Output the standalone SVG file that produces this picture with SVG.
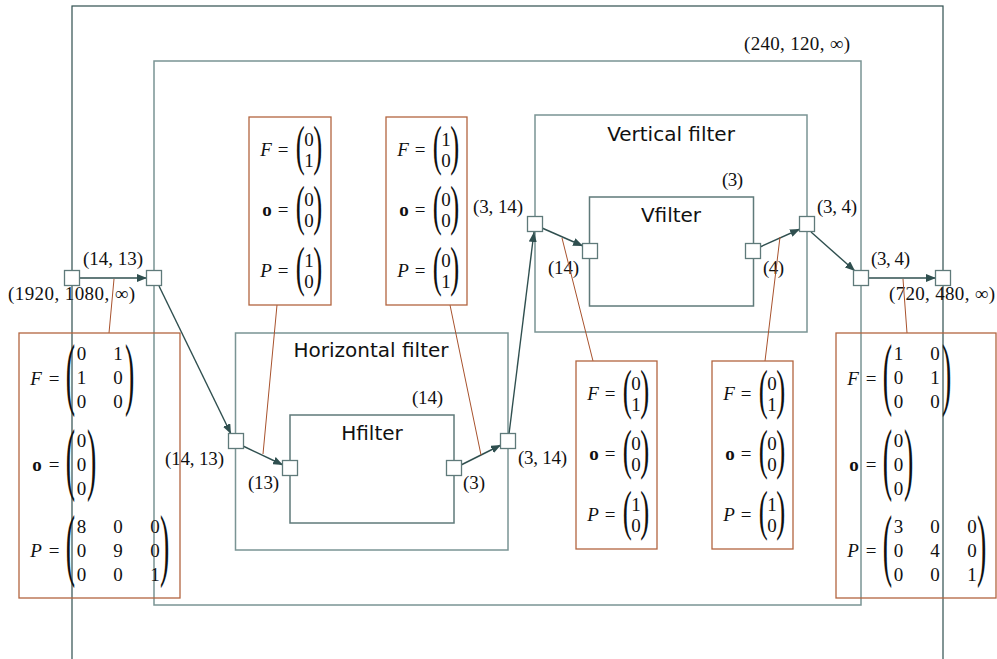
<svg xmlns="http://www.w3.org/2000/svg" width="997" height="659" viewBox="0 0 997 659">
<defs>
<style>
.outer{fill:none;stroke:#2f4f4f;stroke-width:1.2}
.box{fill:none;stroke:#7a9494;stroke-width:1.5}
.fbox{fill:none;stroke:#5f7a7a;stroke-width:1.5}
.port{fill:#fff;stroke:#5f7a7a;stroke-width:1.3}
.mbox{fill:none;stroke:#b3653f;stroke-width:1.3}
.note{stroke:#a8522d;stroke-width:1;fill:none}
.edge{stroke:#2f4f4f;stroke-width:1.4;fill:none;marker-end:url(#ah)}
.m{font-family:"Liberation Serif","DejaVu Serif",serif;font-size:19px;fill:#111;text-anchor:middle}
.mi{font-style:italic}
.mb{font-weight:bold}
.p3{font-family:"Liberation Serif","DejaVu Serif",serif;font-size:80px;fill:#111}
.p2{font-family:"Liberation Serif","DejaVu Serif",serif;font-size:54px;fill:#111}
.lb{font-family:"Liberation Serif","DejaVu Serif",serif;font-size:19px;fill:#111}
.t{font-family:"DejaVu Sans","Liberation Sans",sans-serif;font-size:20px;fill:#111;text-anchor:middle}
</style>
<marker id="ah" viewBox="0 0 10 8" refX="10" refY="4" markerWidth="10" markerHeight="8" markerUnits="userSpaceOnUse" orient="auto">
<path d="M0,0 L10,4 L0,8 z" fill="#2f4f4f"/>
</marker>
</defs>
<rect width="997" height="659" fill="#fff"/>

<g id="pipeline">
<rect class="outer" x="72" y="6" width="871" height="700"/>
<text class="lb" x="8" y="300" textLength="127">(1920, 1080, ∞)</text>
<text class="lb" x="889" y="300" textLength="106">(720, 480, ∞)</text>
</g>

<g id="scaler">
<rect class="box" x="154" y="61" width="707" height="544"/>
<text class="lb" x="744" y="50" textLength="106">(240, 120, ∞)</text>
<text class="lb" x="83" y="265" textLength="60">(14, 13)</text>
<text class="lb" x="871" y="265" textLength="39">(3, 4)</text>
</g>

<g id="horizontal-filter">
<rect class="box" x="235.5" y="333" width="272.5" height="217"/>
<text class="t" x="371" y="357">Horizontal filter</text>
<text class="lb" x="165" y="465" textLength="59">(14, 13)</text>
<text class="lb" x="518" y="464" textLength="49">(3, 14)</text>
</g>

<g id="hfilter">
<rect class="fbox" x="290" y="415" width="164" height="108"/>
<text class="t" x="372" y="440">Hfilter</text>
<text class="lb" x="412" y="404" textLength="31">(14)</text>
<text class="lb" x="248" y="489" textLength="31">(13)</text>
<text class="lb" x="463" y="489" textLength="22">(3)</text>
</g>

<g id="vertical-filter">
<rect class="box" x="535" y="115" width="272" height="217"/>
<text class="t" x="671" y="141">Vertical filter</text>
<text class="lb" x="473" y="213" textLength="50">(3, 14)</text>
<text class="lb" x="817" y="213" textLength="40">(3, 4)</text>
</g>

<g id="vfilter">
<rect class="fbox" x="589.5" y="197" width="164" height="109"/>
<text class="t" x="671" y="222">Vfilter</text>
<text class="lb" x="722" y="186" textLength="21">(3)</text>
<text class="lb" x="548" y="274" textLength="31">(14)</text>
<text class="lb" x="763" y="274" textLength="21">(4)</text>
</g>

<g id="connectors">
<line class="edge" x1="80" y1="278" x2="147" y2="278"/>
<line class="edge" x1="159" y1="286" x2="231" y2="434"/>
<line class="edge" x1="243" y1="446" x2="283" y2="465"/>
<line class="edge" x1="461" y1="465" x2="501" y2="445"/>
<line class="edge" x1="509" y1="434" x2="534" y2="232"/>
<line class="edge" x1="542" y1="228" x2="583" y2="246"/>
<line class="edge" x1="760" y1="247" x2="800" y2="229"/>
<line class="edge" x1="811" y1="232" x2="855" y2="271"/>
<line class="edge" x1="868" y1="278" x2="936" y2="278"/>
<line class="note" x1="109" y1="333" x2="114" y2="279"/>
<line class="note" x1="907" y1="333" x2="903" y2="279"/>
<line class="note" x1="277" y1="305" x2="263" y2="454"/>
<line class="note" x1="450" y1="305" x2="481" y2="455"/>
<line class="note" x1="593" y1="361" x2="562" y2="238"/>
<line class="note" x1="765" y1="361" x2="780" y2="237"/>
</g>

<g id="ports">
<rect class="port" x="64.5" y="270.5" width="15" height="15"/>
<rect class="port" x="146.5" y="270.5" width="15" height="15"/>
<rect class="port" x="228.5" y="433.5" width="15" height="15"/>
<rect class="port" x="282.5" y="460.5" width="15" height="15"/>
<rect class="port" x="446.5" y="460.5" width="15" height="15"/>
<rect class="port" x="500.5" y="433.5" width="15" height="15"/>
<rect class="port" x="527.5" y="216.5" width="15" height="15"/>
<rect class="port" x="582.5" y="243.5" width="15" height="15"/>
<rect class="port" x="745.5" y="243.5" width="15" height="15"/>
<rect class="port" x="799.5" y="216.5" width="15" height="15"/>
<rect class="port" x="853.5" y="270.5" width="15" height="15"/>
<rect class="port" x="935.5" y="270.5" width="15" height="15"/>
</g>

<g id="params-input">
<rect class="mbox" x="19" y="333" width="161" height="265"/>
<text class="m mi" x="36" y="385">F</text><text class="m" x="54" y="385">=</text>
<text class="p3" transform="translate(65.7,400) scale(0.35,1)">(</text>
<text class="p3" transform="translate(125,400) scale(0.35,1)">)</text>
<text class="m" x="81.5" y="360">0</text><text class="m" x="118" y="360">1</text>
<text class="m" x="81.5" y="384">1</text><text class="m" x="118" y="384">0</text>
<text class="m" x="81.5" y="408">0</text><text class="m" x="118" y="408">0</text>
<text class="m mb" x="37" y="471">o</text><text class="m" x="54" y="471">=</text>
<text class="p3" transform="translate(65.7,485) scale(0.35,1)">(</text>
<text class="p3" transform="translate(87,485) scale(0.35,1)">)</text>
<text class="m" x="81.5" y="447">0</text><text class="m" x="81.5" y="471">0</text><text class="m" x="81.5" y="495">0</text>
<text class="m mi" x="36" y="557">P</text><text class="m" x="54" y="557">=</text>
<text class="p3" transform="translate(65.7,571) scale(0.35,1)">(</text>
<text class="p3" transform="translate(160,571) scale(0.35,1)">)</text>
<text class="m" x="81.5" y="533">8</text><text class="m" x="118" y="533">0</text><text class="m" x="155" y="533">0</text>
<text class="m" x="81.5" y="557">0</text><text class="m" x="118" y="557">9</text><text class="m" x="155" y="557">0</text>
<text class="m" x="81.5" y="581">0</text><text class="m" x="118" y="581">0</text><text class="m" x="155" y="581">1</text>
</g>

<g id="params-output" transform="translate(817,0)">
<rect class="mbox" x="19" y="333" width="160" height="265"/>
<text class="m mi" x="36" y="385">F</text><text class="m" x="54" y="385">=</text>
<text class="p3" transform="translate(65.7,400) scale(0.35,1)">(</text>
<text class="p3" transform="translate(125,400) scale(0.35,1)">)</text>
<text class="m" x="81.5" y="360">1</text><text class="m" x="118" y="360">0</text>
<text class="m" x="81.5" y="384">0</text><text class="m" x="118" y="384">1</text>
<text class="m" x="81.5" y="408">0</text><text class="m" x="118" y="408">0</text>
<text class="m mb" x="37" y="471">o</text><text class="m" x="54" y="471">=</text>
<text class="p3" transform="translate(65.7,485) scale(0.35,1)">(</text>
<text class="p3" transform="translate(87,485) scale(0.35,1)">)</text>
<text class="m" x="81.5" y="447">0</text><text class="m" x="81.5" y="471">0</text><text class="m" x="81.5" y="495">0</text>
<text class="m mi" x="36" y="557">P</text><text class="m" x="54" y="557">=</text>
<text class="p3" transform="translate(65.7,571) scale(0.35,1)">(</text>
<text class="p3" transform="translate(160,571) scale(0.35,1)">)</text>
<text class="m" x="81.5" y="533">3</text><text class="m" x="118" y="533">0</text><text class="m" x="155" y="533">0</text>
<text class="m" x="81.5" y="557">0</text><text class="m" x="118" y="557">4</text><text class="m" x="155" y="557">0</text>
<text class="m" x="81.5" y="581">0</text><text class="m" x="118" y="581">0</text><text class="m" x="155" y="581">1</text>
</g>

<g id="params-hfilter-in">
<rect class="mbox" x="249" y="117" width="82" height="188"/>
<text class="m mi" x="266" y="156">F</text><text class="m" x="283" y="156">=</text>
<text class="p2" transform="translate(295.7,163.5) scale(0.5,1)">(</text>
<text class="p2" transform="translate(313.3,163.5) scale(0.5,1)">)</text>
<text class="m" x="309" y="146">0</text><text class="m" x="309" y="167">1</text>
<text class="m mb" x="267" y="216">o</text><text class="m" x="283" y="216">=</text>
<text class="p2" transform="translate(295.7,224) scale(0.5,1)">(</text>
<text class="p2" transform="translate(313.3,224) scale(0.5,1)">)</text>
<text class="m" x="309" y="206">0</text><text class="m" x="309" y="227">0</text>
<text class="m mi" x="266" y="277">P</text><text class="m" x="283" y="277">=</text>
<text class="p2" transform="translate(295.7,285) scale(0.5,1)">(</text>
<text class="p2" transform="translate(313.3,285) scale(0.5,1)">)</text>
<text class="m" x="309" y="267">1</text><text class="m" x="309" y="288">0</text>
</g>

<g id="params-hfilter-out" transform="translate(137,0)">
<rect class="mbox" x="249" y="117" width="81" height="188"/>
<text class="m mi" x="266" y="156">F</text><text class="m" x="283" y="156">=</text>
<text class="p2" transform="translate(295.7,163.5) scale(0.5,1)">(</text>
<text class="p2" transform="translate(313.3,163.5) scale(0.5,1)">)</text>
<text class="m" x="309" y="146">1</text><text class="m" x="309" y="167">0</text>
<text class="m mb" x="267" y="216">o</text><text class="m" x="283" y="216">=</text>
<text class="p2" transform="translate(295.7,224) scale(0.5,1)">(</text>
<text class="p2" transform="translate(313.3,224) scale(0.5,1)">)</text>
<text class="m" x="309" y="206">0</text><text class="m" x="309" y="227">0</text>
<text class="m mi" x="266" y="277">P</text><text class="m" x="283" y="277">=</text>
<text class="p2" transform="translate(295.7,285) scale(0.5,1)">(</text>
<text class="p2" transform="translate(313.3,285) scale(0.5,1)">)</text>
<text class="m" x="309" y="267">0</text><text class="m" x="309" y="288">1</text>
</g>

<g id="params-vfilter-in" transform="translate(327,244)">
<rect class="mbox" x="249" y="117" width="81" height="188"/>
<text class="m mi" x="266" y="156">F</text><text class="m" x="283" y="156">=</text>
<text class="p2" transform="translate(295.7,163.5) scale(0.5,1)">(</text>
<text class="p2" transform="translate(313.3,163.5) scale(0.5,1)">)</text>
<text class="m" x="309" y="146">0</text><text class="m" x="309" y="167">1</text>
<text class="m mb" x="267" y="216">o</text><text class="m" x="283" y="216">=</text>
<text class="p2" transform="translate(295.7,224) scale(0.5,1)">(</text>
<text class="p2" transform="translate(313.3,224) scale(0.5,1)">)</text>
<text class="m" x="309" y="206">0</text><text class="m" x="309" y="227">0</text>
<text class="m mi" x="266" y="277">P</text><text class="m" x="283" y="277">=</text>
<text class="p2" transform="translate(295.7,285) scale(0.5,1)">(</text>
<text class="p2" transform="translate(313.3,285) scale(0.5,1)">)</text>
<text class="m" x="309" y="267">1</text><text class="m" x="309" y="288">0</text>
</g>

<g id="params-vfilter-out" transform="translate(463,244)">
<rect class="mbox" x="249" y="117" width="81" height="188"/>
<text class="m mi" x="266" y="156">F</text><text class="m" x="283" y="156">=</text>
<text class="p2" transform="translate(295.7,163.5) scale(0.5,1)">(</text>
<text class="p2" transform="translate(313.3,163.5) scale(0.5,1)">)</text>
<text class="m" x="309" y="146">0</text><text class="m" x="309" y="167">1</text>
<text class="m mb" x="267" y="216">o</text><text class="m" x="283" y="216">=</text>
<text class="p2" transform="translate(295.7,224) scale(0.5,1)">(</text>
<text class="p2" transform="translate(313.3,224) scale(0.5,1)">)</text>
<text class="m" x="309" y="206">0</text><text class="m" x="309" y="227">0</text>
<text class="m mi" x="266" y="277">P</text><text class="m" x="283" y="277">=</text>
<text class="p2" transform="translate(295.7,285) scale(0.5,1)">(</text>
<text class="p2" transform="translate(313.3,285) scale(0.5,1)">)</text>
<text class="m" x="309" y="267">1</text><text class="m" x="309" y="288">0</text>
</g>
</svg>
